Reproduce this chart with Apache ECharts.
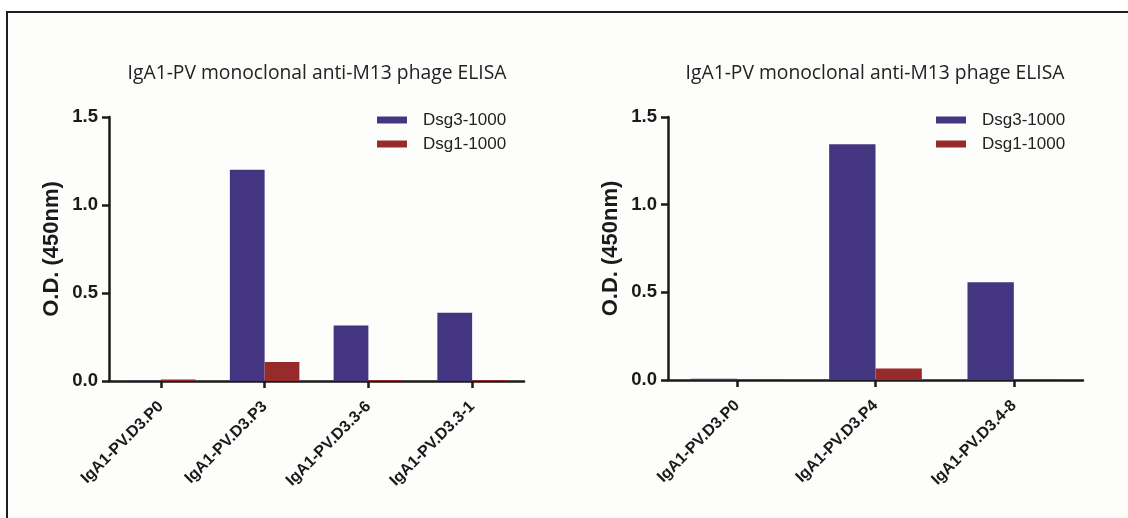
<!DOCTYPE html>
<html>
<head>
<meta charset="utf-8">
<script src="https://cdn.jsdelivr.net/npm/echarts@6/dist/echarts.min.js"></script>
<style>
html,body{margin:0;padding:0;background:#ffffff;}
#chart{width:1128px;height:518px;}
</style>
</head>
<body>
<div id="chart"></div>
<script>
// ---- data ----
var titleText = 'IgA1-PV monoclonal anti-M13 phage ELISA';
var yAxisName = 'O.D. (450nm)';
var seriesNames = ['Dsg3-1000', 'Dsg1-1000'];
var leftCategories = ['IgA1-PV.D3.P0', 'IgA1-PV.D3.P3', 'IgA1-PV.D3.3-6', 'IgA1-PV.D3.3-1'];
var leftDsg3 = [0.001, 1.20, 0.316, 0.388];
var leftDsg1 = [0.008, 0.108, 0.006, 0.006];
var rightCategories = ['IgA1-PV.D3.P0', 'IgA1-PV.D3.P4', 'IgA1-PV.D3.4-8'];
var rightDsg3 = [0.007, 1.344, 0.558];
var rightDsg1 = [0.006, 0.066, 0.006];
var yMin = 0, yMax = 1.5, yStep = 0.5;

var BLUE = '#433580';
var RED = '#972b2b';
var SANS = '"Liberation Sans", Arial, Helvetica, sans-serif';

var chart = echarts.init(document.getElementById('chart'));

function makeY(idx) {
  return {
    type: 'value', gridIndex: idx, min: yMin, max: yMax, interval: yStep,
    name: yAxisName, nameLocation: 'middle', nameGap: 46,
    nameTextStyle: { fontFamily: SANS, fontWeight: 'bold', fontSize: 22, color: '#1a1a1a' },
    axisLine: { show: true, lineStyle: { color: '#1a1a1a', width: 2.5 } },
    axisTick: { show: true, length: 7, lineStyle: { color: '#1a1a1a', width: 2.5 } },
    axisLabel: { margin: 11, fontFamily: SANS, fontWeight: 'bold', fontSize: 18.5, color: '#1a1a1a',
      formatter: function (v) { return v.toFixed(1); } },
    splitLine: { show: false }
  };
}
function makeX(idx, cats) {
  return {
    type: 'category', gridIndex: idx, data: cats,
    axisLine: { show: true, lineStyle: { color: '#1a1a1a', width: 2.5 } },
    axisTick: { show: true, alignWithLabel: true, length: 7, lineStyle: { color: '#1a1a1a', width: 2.5 } },
    axisLabel: { interval: 0, rotate: 45, margin: 23, fontFamily: SANS, fontWeight: 'bold', fontSize: 16, color: '#1a1a1a' },
    splitLine: { show: false }
  };
}
function makeBar(name, data, idx, color) {
  return {
    type: 'bar', name: name, data: data, xAxisIndex: idx, yAxisIndex: idx,
    barGap: '0%', barCategoryGap: '33%',
    itemStyle: { color: color },
    emphasis: { disabled: true }
  };
}
function makeLegend(left) {
  return {
    orient: 'vertical', left: left, top: 111.5,
    itemWidth: 30, itemHeight: 7, itemGap: 7, icon: 'rect', padding: 0,
    data: seriesNames,
    textStyle: { fontFamily: SANS, fontSize: 17, lineHeight: 17, color: '#222', padding: [0, 0, 0, 11] }
  };
}
function makeTitle(centerX) {
  return {
    text: titleText, left: centerX, top: 64, textAlign: 'center', padding: 0,
    textStyle: { fontFamily: '"Open Sans", sans-serif', fontWeight: 'normal', fontSize: 19.3, color: '#222' }
  };
}

chart.setOption({
  animation: false,
  backgroundColor: '#ffffff',
  graphic: [{
    type: 'rect', silent: true, z: -10,
    shape: { x: 7, y: 12, width: 1140, height: 530 },
    style: { fill: '#fdfdfb', stroke: '#1e1e1e', lineWidth: 2 }
  }],
  title: [makeTitle(317), makeTitle(875)],
  legend: [makeLegend(377), makeLegend(936)],
  grid: [
    { left: 109, top: 117, width: 415, height: 264 },
    { left: 668, top: 117, width: 415, height: 263 }
  ],
  xAxis: [makeX(0, leftCategories), makeX(1, rightCategories)],
  yAxis: [makeY(0), makeY(1)],
  series: [
    makeBar(seriesNames[0], leftDsg3, 0, BLUE),
    makeBar(seriesNames[1], leftDsg1, 0, RED),
    makeBar(seriesNames[0], rightDsg3, 1, BLUE),
    makeBar(seriesNames[1], rightDsg1, 1, RED)
  ]
});
</script>
</body>
</html>
